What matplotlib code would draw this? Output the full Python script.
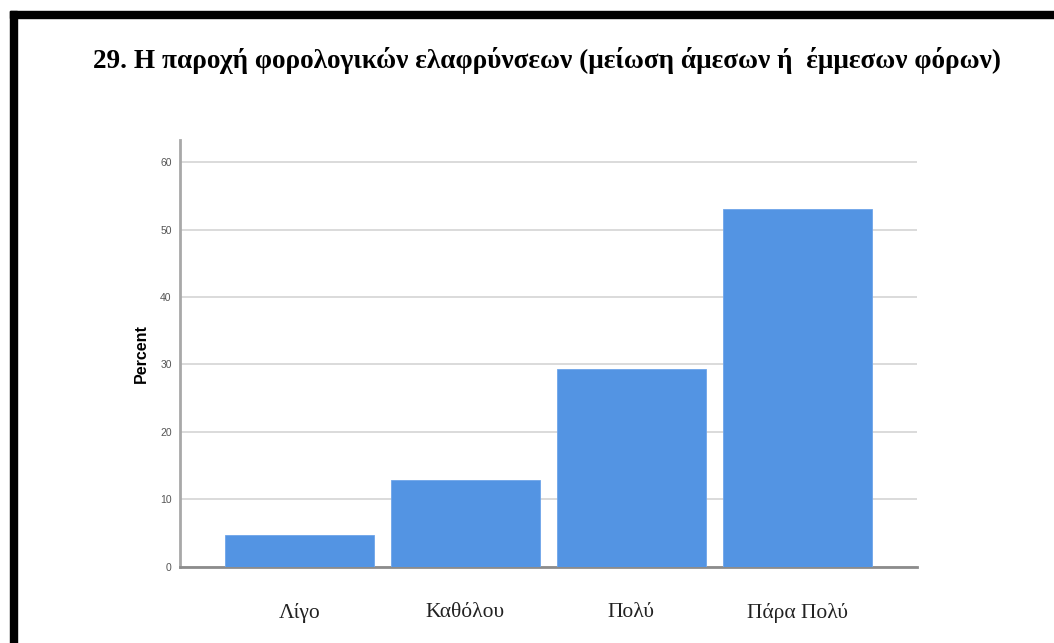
import matplotlib
matplotlib.use("Agg")
import matplotlib.pyplot as plt
from matplotlib.patches import Rectangle

# Survey responses (percent)
categories = ["Λίγο", "Καθόλου", "Πολύ", "Πάρα Πολύ"]
percent = [4.7, 12.9, 29.3, 53.1]
yticks = [0, 10, 20, 30, 40, 50, 60]
title = "29. Η παροχή φορολογικών ελαφρύνσεων (μείωση άμεσων ή  έμμεσων φόρων)"

W, H = 1054, 643
fig = plt.figure(figsize=(W / 100, H / 100), dpi=100)
fig.patch.set_facecolor("white")

# Page frame (top and left black borders)
fig.patches.append(Rectangle((10 / W, 1 - 18 / H), 1 - 10 / W, 7 / H,
                             transform=fig.transFigure, color="black", zorder=0))
fig.patches.append(Rectangle((10 / W, 0), 7 / W, 1 - 11 / H,
                             transform=fig.transFigure, color="black", zorder=0))

fig.text(547 / W, 1 - 61 / H, title, ha="center", va="center",
         family="Liberation Serif", fontweight="bold", fontsize=19.6, color="black")

ax = fig.add_axes([180 / W, 1 - 566.7 / H, (916.7 - 180) / W, (566.7 - 140) / H])
x = list(range(len(categories)))
ax.bar(x, percent, width=0.9, color="#5394e3", edgecolor="#6ea5ea",
       linewidth=0.6, zorder=3)

ax.set_xlim(-0.72, 3.72)
ax.set_ylim(0, 63.3)
ax.set_yticks(yticks)
ax.set_yticklabels([str(t) for t in yticks], fontsize=7.5, color="#555555",
                   family="Liberation Sans")
ax.tick_params(axis="y", length=0, pad=6)
ax.grid(axis="y", color="#dadada", linewidth=1.4, zorder=0)
ax.set_axisbelow(True)

ax.set_xticks(x)
ax.set_xticklabels(categories, family="Liberation Serif", fontsize=15.5, color="#222222")
ax.tick_params(axis="x", length=0, pad=26)

for s in ["top", "right"]:
    ax.spines[s].set_visible(False)
ax.spines["left"].set_color("#a8a8a8")
ax.spines["left"].set_linewidth(2)
ax.spines["bottom"].set_color("#8c8c8c")
ax.spines["bottom"].set_linewidth(2)

ax.set_ylabel("Percent", fontsize=11.5, fontweight="bold", color="black",
              family="Liberation Sans", labelpad=8)

fig.savefig("out.png", dpi=100)
